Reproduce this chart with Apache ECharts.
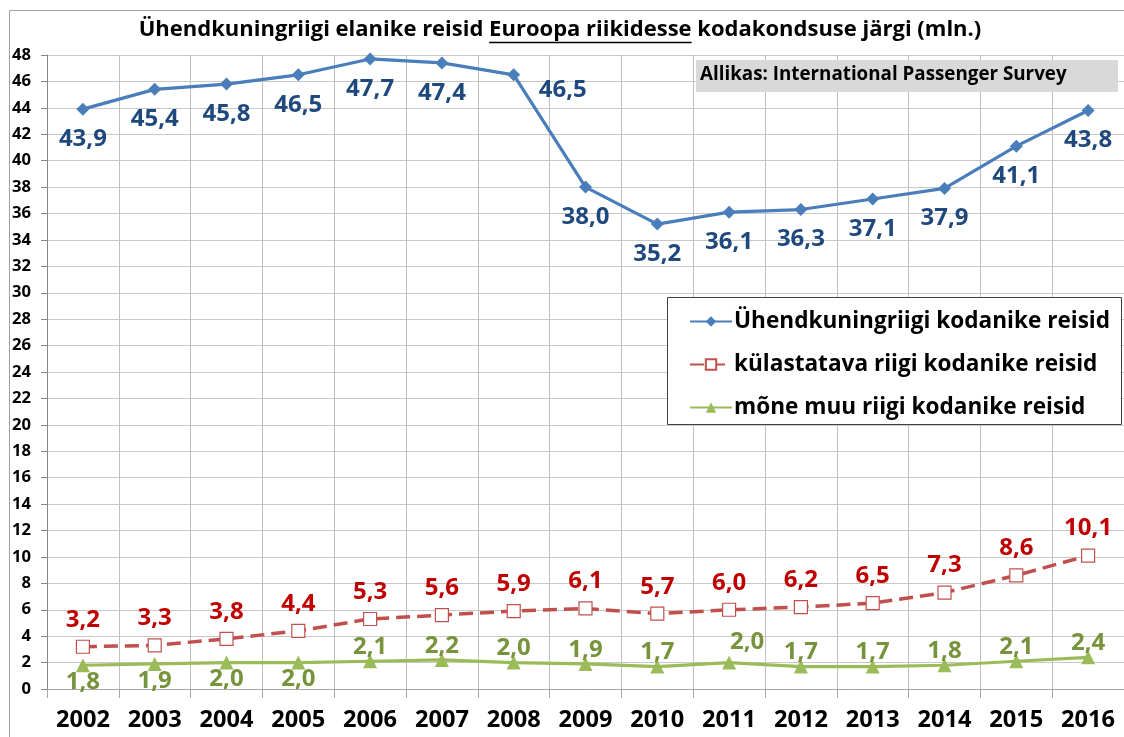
<!DOCTYPE html>
<html>
<head>
<meta charset="utf-8">
<script src="https://cdn.jsdelivr.net/npm/echarts@6/dist/echarts.min.js"></script>
<style>
  html, body { margin: 0; padding: 0; background: #fff; }
  #chart { width: 1124px; height: 737px; }
</style>
</head>
<body>
<div id="chart"></div>
<script>
// andmed
var years = ['2002', '2003', '2004', '2005', '2006', '2007', '2008', '2009', '2010', '2011', '2012', '2013', '2014', '2015', '2016'];
var ukCitizens = [43.9, 45.4, 45.8, 46.5, 47.7, 47.4, 46.5, 38.0, 35.2, 36.1, 36.3, 37.1, 37.9, 41.1, 43.8];
var visitedCountry = [3.2, 3.3, 3.8, 4.4, 5.3, 5.6, 5.9, 6.1, 5.7, 6.0, 6.2, 6.5, 7.3, 8.6, 10.1];
var otherCountry = [1.8, 1.9, 2.0, 2.0, 2.1, 2.2, 2.0, 1.9, 1.7, 2.0, 1.7, 1.7, 1.8, 2.1, 2.4];
var seriesNames = ['Ühendkuningriigi kodanike reisid', 'külastatava riigi kodanike reisid', 'mõne muu riigi kodanike reisid'];

var FONT = 'Open Sans';

// teksti laiuse mõõtmine, et fondi suurus sobiks
var ctx = document.createElement('canvas').getContext('2d');
function measure(text, size) {
    ctx.font = 'bold ' + size + 'px "' + FONT + '"';
    return ctx.measureText(text).width;
}
function fitSize(text, width) {
    return Math.round(20 * width / measure(text, 20) * 10) / 10;
}

var fmt = function (p) { return p.value.toFixed(1).replace('.', ','); };

// pealkiri kolmes osas (keskmine allajoonitud)
var t1 = 'Ühendkuningriigi elanike reisid ';
var t2 = 'Euroopa riikidesse';
var t3 = ' kodakondsuse järgi (mln.)';
var titleSize = fitSize(t1 + t2 + t3, 844);
var w1 = measure(t1, titleSize), w2 = measure(t2, titleSize), w3 = measure(t3, titleSize);
var titleX = 560 - (w1 + w2 + w3) / 2;

var sourceText = 'Allikas: International Passenger Survey';
var sourceSize = fitSize(sourceText, 367);
var legendSize = fitSize(seriesNames[0], 376);
var labelSize = fitSize('43,9', 48);
var xLabelSize = fitSize('2002', 54);
var yLabelSize = fitSize('48', 19);

function greenLabel(v, i) {
    var off = i < 4 ? [0, 17] : [0, -14];
    if (i === 9) off = [18, -20];
    return { value: v, label: { offset: off } };
}

var chart = echarts.init(document.getElementById('chart'));
var option = {
    animation: false,
    textStyle: { fontFamily: FONT },
    grid: { left: 47, top: 55, right: -5, bottom: 48, containLabel: false },
    xAxis: {
        type: 'category',
        data: years,
        boundaryGap: true,
        axisLine: { lineStyle: { color: '#a6a6a6', width: 1 } },
        axisTick: { show: true, length: 9, lineStyle: { color: '#a6a6a6' } },
        splitLine: { show: true, lineStyle: { color: '#bfbfbf', width: 1 } },
        axisLabel: { color: '#000', fontWeight: 'bold', fontSize: xLabelSize, margin: 19, fontFamily: FONT }
    },
    yAxis: {
        type: 'value',
        min: 0, max: 48, interval: 2,
        axisLine: { show: true, lineStyle: { color: '#868686', width: 1 } },
        axisTick: { show: true, length: 6, lineStyle: { color: '#868686' } },
        splitLine: { show: true, lineStyle: { color: '#c8c8c8', width: 1 } },
        axisLabel: { color: '#000', fontWeight: 'bold', fontSize: yLabelSize, margin: 16, fontFamily: FONT }
    },
    legend: {
        orient: 'vertical',
        left: 684, top: 305,
        z: 20,
        itemWidth: 42, itemHeight: 13,
        itemGap: 20,
        textStyle: { fontSize: legendSize, fontWeight: 'bold', color: '#000', fontFamily: FONT, padding: [0, 0, 0, -3] },
        data: seriesNames
    },
    series: [
        {
            name: seriesNames[0],
            type: 'line',
            data: ukCitizens.map(function (v, i) {
                return i === 6 ? { value: v, label: { offset: [49, 15] } } : v;
            }),
            symbol: 'diamond', symbolSize: 13,
            lineStyle: { color: '#4a7ebb', width: 3.2 },
            itemStyle: { color: '#4a7ebb' },
            label: { show: true, position: 'inside', offset: [0, 30], formatter: fmt, color: '#1f497d', fontSize: labelSize, fontWeight: 'bold', fontFamily: FONT }
        },
        {
            name: seriesNames[1],
            type: 'line',
            data: visitedCountry,
            symbol: 'rect', symbolSize: 13,
            lineStyle: { color: '#c0504d', width: 3.5, type: [14, 7] },
            itemStyle: { color: '#fff', borderColor: '#c0504d', borderWidth: 1.2 },
            label: { show: true, position: 'inside', offset: [0, -27], formatter: fmt, color: '#c00000', fontSize: labelSize, fontWeight: 'bold', fontFamily: FONT }
        },
        {
            name: seriesNames[2],
            type: 'line',
            data: otherCountry.map(greenLabel),
            symbol: 'triangle', symbolSize: 14,
            lineStyle: { color: '#9bbb59', width: 3.2 },
            itemStyle: { color: '#9bbb59' },
            label: { show: true, position: 'inside', formatter: fmt, color: '#77933c', fontSize: labelSize, fontWeight: 'bold', fontFamily: FONT }
        }
    ],
    graphic: [
        { type: 'rect', shape: { x: 9.5, y: 10.5, width: 1200, height: 800 }, style: { fill: null, stroke: '#a0a0a0', lineWidth: 1 }, silent: true, z: -10 },
        { type: 'text', left: titleX, top: 19, style: { text: t1 + t2 + t3, font: 'bold ' + titleSize + 'px "' + FONT + '"', fill: '#000' } },
        { type: 'line', shape: { x1: titleX + w1, y1: 42.5, x2: titleX + w1 + w2, y2: 42.5 }, style: { stroke: '#000', lineWidth: 1.5 } },
        { type: 'rect', shape: { x: 696, y: 60, width: 422, height: 32 }, style: { fill: '#d9d9d9' }, z: 5 },
        { type: 'text', left: 700, top: 65, style: { text: sourceText, font: 'bold ' + sourceSize + 'px "' + FONT + '"', fill: '#000' }, z: 6 },
        { type: 'rect', shape: { x: 667.5, y: 297.5, width: 454, height: 127 }, style: { fill: '#fff', stroke: '#404040', lineWidth: 1 }, z: 5 }
    ]
};
chart.setOption(option);
</script>
</body>
</html>
